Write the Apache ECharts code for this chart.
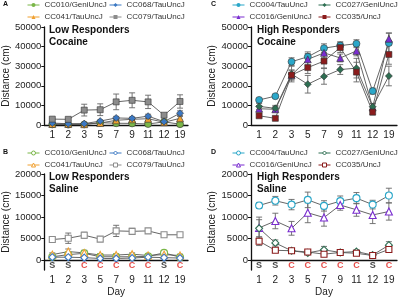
<!DOCTYPE html>
<html><head><meta charset="utf-8">
<script src="https://cdn.jsdelivr.net/npm/echarts@6/dist/echarts.min.js"></script>
<style>html,body{margin:0;padding:0;background:#fff}#c{width:400px;height:298px}</style>
</head><body><div id="c"></div>
<script>
const days = ['1','2','3','5','7','9','11','12','19'];
const sessionLabels = ['S','S','C','C','C','C','C','S','C'];

// Panel A: Low responders, cocaine
const aCC010 = [300, 200, 300, 1200, 900, 800, 500, 1600, 400];
const aCC010err = [200, 200, 200, 300, 400, 300, 300, 400, 300];
const aCC068 = [1000, 600, 700, 2000, 3600, 3400, 4500, 1700, 6000];
const aCC068err = [300, 200, 300, 500, 800, 700, 1000, 500, 1200];
const aCC041 = [500, 500, 400, 1000, 2400, 2900, 3200, 1400, 3400];
const aCC041err = [200, 200, 200, 400, 800, 800, 900, 400, 900];
const aCC079 = [3000, 2900, 7600, 7800, 11800, 12600, 11800, 5000, 12000];
const aCC079err = [500, 500, 3000, 3000, 4000, 3800, 3400, 800, 3400];

// Panel C: High responders, cocaine
const cCC004 = [12800, 14700, 32300, 34800, 39200, 40500, 41500, 17300, 41800];
const cCC004err = [800, 800, 2000, 2500, 2200, 2000, 2000, 1500, 5000];
const cCC016 = [8300, 8000, 25500, 33500, 36800, 34200, 37800, 9000, 44000];
const cCC016err = [1500, 1500, 2500, 3000, 2500, 2000, 2500, 2000, 3000];
const cCC027 = [9500, 8500, 26000, 20800, 24800, 28300, 29000, 9300, 25000];
const cCC027err = [1500, 1500, 4000, 4500, 4000, 2500, 5000, 1500, 5000];
const cCC035 = [4700, 3400, 25500, 29300, 32600, 39500, 27000, 6600, 36000];
const cCC035err = [800, 800, 2500, 3000, 3500, 2500, 5000, 1500, 5000];

// Panel B: Low responders, saline
const bCC010 = [800, 1300, 1600, 800, 800, 800, 900, 1700, 700];
const bCC010err = [300, 300, 500, 300, 200, 200, 200, 300, 200];
const bCC068 = [700, 700, 600, 400, 400, 500, 700, 600, 500];
const bCC068err = [200, 200, 200, 200, 200, 200, 200, 200, 200];
const bCC041 = [1300, 2000, 1700, 1200, 1200, 1400, 1100, 1300, 1100];
const bCC041err = [400, 600, 600, 300, 300, 300, 300, 300, 300];
const bCC079 = [4800, 5100, 5800, 4900, 6800, 6700, 6800, 5900, 5900];
const bCC079err = [400, 1200, 700, 300, 1300, 700, 500, 300, 500];

// Panel D: High responders, saline
const dCC004 = [12700, 13800, 12900, 14000, 12600, 13700, 14400, 12900, 15000];
const dCC004err = [700, 1000, 1200, 1800, 1200, 1200, 1300, 1000, 1700];
const dCC016 = [7500, 9100, 7400, 11000, 9900, 12800, 11700, 10500, 11300];
const dCC016err = [2500, 1800, 1600, 2300, 2000, 1200, 1500, 2000, 2000];
const dCC027 = [7400, 4000, 2200, 1700, 2400, 1800, 2000, 1200, 3500];
const dCC027err = [2000, 700, 400, 400, 800, 300, 400, 300, 800];
const dCC035 = [4400, 2300, 2200, 1900, 1400, 1800, 1600, 1100, 2500];
const dCC035err = [1000, 400, 300, 300, 300, 300, 300, 200, 400];

const FONT = 'Liberation Sans, Arial, sans-serif';
const ZW = '\u200b';

const strains = {
  CC010: {name:'CC010/GeniUncJ', color:'#7ab648', symbol:'circle'},
  CC068: {name:'CC068/TauUncJ', color:'#3b78c3', symbol:'diamond'},
  CC041: {name:'CC041/TauUncJ', color:'#f0a030', symbol:'triangle'},
  CC079: {name:'CC079/TauUncJ', color:'#8c8c8c', symbol:'rect'},
  CC004: {name:'CC004/TauUncJ', color:'#2ba7c9', symbol:'circle'},
  CC016: {name:'CC016/GeniUncJ', color:'#7a2dd0', symbol:'triangle'},
  CC027: {name:'CC027/GeniUncJ', color:'#2e6e52', symbol:'diamond'},
  CC035: {name:'CC035/UncJ', color:'#8b1c1c', symbol:'rect'}
};

const panels = [
  {letter:'A', title:'Low Responders\nCocaine', open:false, idx:0, left:43, top:27, width:145, sfx:'',
   ymin:0, ymax:50000, ticks:[0,10000,20000,30000,40000,50000],
   lines:[['CC010',aCC010,aCC010err],['CC041',aCC041,aCC041err],['CC068',aCC068,aCC068err],['CC079',aCC079,aCC079err]],
   legCols:[[ 'CC010','CC041'],['CC068','CC079']], legLeft:[27,109], legTop:1, letterPos:[3,1]},
  {letter:'C', title:'High Responders\nCocaine', open:false, idx:1, left:251, top:27, width:146, sfx:'',
   ymin:0, ymax:50000, ticks:[0,10000,20000,30000,40000,50000],
   lines:[['CC004',cCC004,cCC004err],['CC016',cCC016,cCC016err],['CC027',cCC027,cCC027err],['CC035',cCC035,cCC035err]],
   legCols:[['CC004','CC016'],['CC027','CC035']], legLeft:[232,318], legTop:1, letterPos:[211,1]},
  {letter:'B', title:'Low Responders\nSaline', open:true, idx:2, left:43, top:174, width:145, sfx:ZW, day:true,
   ymin:-2270, ymax:20000, ticks:[0,5000,10000,15000,20000],
   lines:[['CC010',bCC010,bCC010err],['CC041',bCC041,bCC041err],['CC068',bCC068,bCC068err],['CC079',bCC079,bCC079err]],
   legCols:[['CC010','CC041'],['CC068','CC079']], legLeft:[27,109], legTop:149, letterPos:[3,149]},
  {letter:'D', title:'High Responders\nSaline', open:true, idx:3, left:251, top:174, width:146, sfx:ZW, day:true,
   ymin:-2270, ymax:20000, ticks:[0,5000,10000,15000,20000],
   lines:[['CC004',dCC004,dCC004err],['CC016',dCC016,dCC016err],['CC027',dCC027,dCC027err],['CC035',dCC035,dCC035err]],
   legCols:[['CC004','CC016'],['CC027','CC035']], legLeft:[232,318], legTop:149, letterPos:[211,149]}
];

const option = {animation:false, backgroundColor:'#fff', textStyle:{fontFamily:FONT},
  grid:[], xAxis:[], yAxis:[], series:[], title:[], legend:[]};

function errRender(params, api){
  const x = api.value(0), lo = api.value(1), hi = api.value(2);
  const p1 = api.coord([x, lo]), p2 = api.coord([x, hi]);
  const w = 3;
  const st = {stroke:'#666', lineWidth:0.9};
  return {type:'group', children:[
    {type:'line', shape:{x1:p1[0], y1:p1[1], x2:p2[0], y2:p2[1]}, style:st},
    {type:'line', shape:{x1:p2[0]-w, y1:p2[1], x2:p2[0]+w, y2:p2[1]}, style:st},
    {type:'line', shape:{x1:p1[0]-w, y1:p1[1], x2:p1[0]+w, y2:p1[1]}, style:st}
  ]};
}

panels.forEach(p => {
  option.grid.push({left:p.left, top:p.top, width:p.width, height:98});
  option.xAxis.push({type:'category', gridIndex:p.idx, data:days, boundaryGap:true,
    axisLine:{lineStyle:{color:'#111', width:1.3}},
    axisTick:{alignWithLabel:true, length:3, lineStyle:{color:'#111'}},
    axisLabel:{fontSize:10, color:'#222', margin:5, interval:0, fontFamily:FONT},
    name: p.day ? 'Day' : '', nameLocation:'middle', nameGap:17,
    nameTextStyle:{fontSize:10, color:'#222', fontFamily:FONT}});
  option.yAxis.push({type:'value', gridIndex:p.idx, min:p.ymin, max:p.ymax,
    axisLine:{show:true, lineStyle:{color:'#111', width:1.3}},
    axisTick:{show:true, length:3, lineStyle:{color:'#111'}, customValues:p.ticks},
    axisLabel:{fontSize:9.5, color:'#222', margin:3, customValues:p.ticks, fontFamily:FONT,
      formatter: v => String(Math.round(v))},
    splitLine:{show:false},
    name:'Distance (cm)', nameLocation:'middle', nameGap:25,
    nameTextStyle:{fontSize:10, color:'#222', fontFamily:FONT}});
  option.title.push({text:p.title, left:p.left+6, top:p.top-3,
    textStyle:{fontSize:10, fontWeight:'bold', color:'#111', lineHeight:12, fontFamily:FONT}, padding:0});
  option.title.push({text:p.letter, left:p.letterPos[0], top:p.letterPos[1],
    textStyle:{fontSize:7, fontWeight:'bold', color:'#111', fontFamily:FONT}, padding:0});

  p.lines.forEach(([key, vals, errs]) => {
    const s = strains[key];
    const nm = s.name + p.sfx;
    option.series.push({type:'custom', name:nm+'_err', xAxisIndex:p.idx, yAxisIndex:p.idx,
      renderItem:errRender, z:1, silent:true,
      data: vals.map((v,i)=>[i, v-errs[i], v+errs[i]])});
    option.series.push({type:'line', name:nm, xAxisIndex:p.idx, yAxisIndex:p.idx, data:vals,
      symbol:s.symbol, symbolSize: s.symbol==='rect'?6:7,
      z:3, lineStyle:{color:'#555', width:0.9},
      itemStyle: p.open ? {color:'#fff', borderColor:s.color, borderWidth:1.1}
                        : {color:s.color, borderColor:'#333', borderWidth:0.6}});
  });

  p.legCols.forEach((col, ci) => {
    option.legend.push({orient:'vertical', left:p.legLeft[ci], top:p.legTop, padding:0, itemGap:4,
      itemWidth:12, itemHeight:5, data: col.map(k => ({name: strains[k].name + p.sfx,
        itemStyle: p.open ? {color:'#fff', borderColor:strains[k].color, borderWidth:1}
                          : {color:strains[k].color, borderWidth:0},
        lineStyle:{color:strains[k].color, width:1}})),
      textStyle:{fontSize:8, color:'#333', fontFamily:FONT, padding:[0,0,0,0]},
      formatter: n => n.replace(ZW,''), selectedMode:false});
  });

  if (p.day) {
    option.series.push({type:'scatter', xAxisIndex:p.idx, yAxisIndex:p.idx, symbolSize:1,
      itemStyle:{color:'transparent'}, z:4, silent:true,
      data: sessionLabels.map((t,i)=>({value:[i,-1150],
        label:{color: t==='S' ? '#111' : '#e0201c'}})),
      label:{show:true, position:'inside', fontSize:9, fontWeight:'bold', fontFamily:FONT,
        formatter: prm => sessionLabels[prm.dataIndex]}});
  }
});

const chart = echarts.init(document.getElementById('c'), null, {renderer:'canvas'});
chart.setOption(option);
</script></body></html>
